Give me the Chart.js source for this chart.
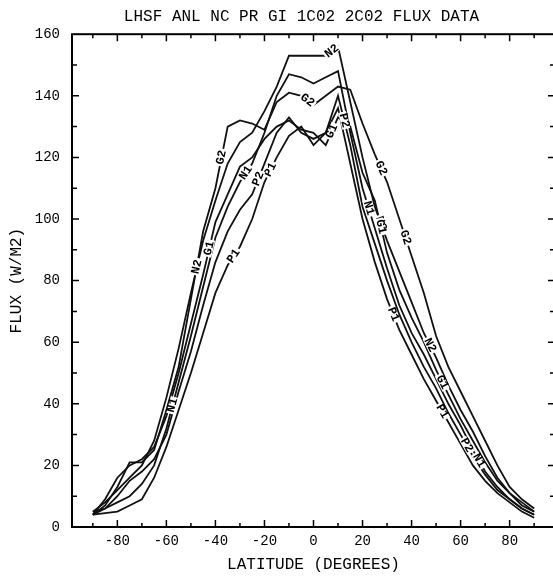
<!DOCTYPE html>
<html>
<head>
<meta charset="utf-8">
<script src="https://cdn.jsdelivr.net/npm/chart.js@4.4.0/dist/chart.umd.min.js"></script>
<style>
  html, body { margin: 0; padding: 0; background: #fff; }
  #wrap { width: 553px; height: 577px; overflow: hidden; }
</style>
</head>
<body>
<div id="wrap"><canvas id="fluxChart" width="560" height="577"></canvas></div>
<script>
const latitudes = [-90, -85, -80, -75, -70, -65, -60, -55, -50, -45, -40, -35, -30, -25, -20, -15, -10, -5,
  0, 5, 10, 15, 20, 25, 30, 35, 40, 45, 50, 55, 60, 65, 70, 75, 80, 85, 90];

const fluxN1 = [5, 6, 8, 10, 14, 20, 32, 47, 62, 78, 94, 104, 112, 118, 128, 140, 147, 146, 144, 146,
  148, 128, 110, 97, 84, 72, 63, 56, 48, 40, 33, 25, 18, 13, 9, 6, 4];
const fluxN2 = [5, 8, 12, 16, 20, 28, 42, 58, 76, 93, 106, 118, 125, 128, 135, 143, 153, 153, 153, 153,
  156, 138, 120, 104, 93, 83, 73, 63, 55, 46, 38, 31, 23, 16, 11, 8, 5];
const fluxP1 = [4, 4.5, 5, 7, 9, 16, 26, 38, 50, 63, 76, 85, 91, 100, 112, 120, 127, 130, 124, 128,
  136, 118, 100, 86, 74, 64, 56, 48, 41, 34, 27, 20, 15, 11, 8, 5, 3];
const fluxP2 = [4, 6, 10, 15, 18, 22, 30, 44, 57, 72, 86, 96, 103, 108, 118, 128, 133, 128, 126, 128,
  140, 124, 104, 92, 80, 69, 60, 52, 45, 37, 30, 23, 17, 12, 9, 6, 4];
const fluxG1 = [4, 9, 16, 20, 22, 26, 36, 50, 66, 82, 99, 108, 117, 120, 126, 130, 132, 129, 128, 124,
  133, 130, 115, 106, 89, 77, 68, 60, 51, 43, 35, 28, 21, 15, 11, 7, 5];
const fluxG2 = [4, 7, 13, 21, 21, 25, 38, 52, 74, 96, 110, 130, 132, 131, 129, 138, 141, 140, 137, 140,
  143, 142, 131, 121, 112, 100, 88, 76, 62, 52, 44, 36, 28, 20, 13, 9, 6];

const seriesNames = ["N1", "N2", "P1", "P2", "G1", "G2"];
const seriesValues = [fluxN1, fluxN2, fluxP1, fluxP2, fluxG1, fluxG2];

const xTickValues = [-80, -60, -40, -20, 0, 20, 40, 60, 80];
const yTickValues = [0, 20, 40, 60, 80, 100, 120, 140, 160];

// segment index (from point i to i+1) where each curve carries its name
const labelSpots = {
  N1: [6, 12, 22, 31],
  N2: [8, 19, 23, 27],
  P1: [11, 14, 24, 28],
  P2: [13, 20, 30],
  G1: [9, 19, 23, 28],
  G2: [10, 17, 23, 25],
};

Chart.defaults.font.family = "'Liberation Mono', 'DejaVu Sans Mono', monospace";
Chart.defaults.color = "#000";

const frameTicks = {
  id: "frameTicks",
  afterLayout(chart) {
    // nudge the title a little left, as on the plotter sheet
    if (chart.titleBlock) chart.titleBlock.left -= 24;
  },
  afterDraw(chart) {
    const { ctx, chartArea: a, scales: { x, y } } = chart;
    ctx.save();
    ctx.strokeStyle = "#000";
    ctx.lineWidth = 2;
    ctx.strokeRect(a.left, a.top, a.right - a.left, a.bottom - a.top);
    ctx.lineWidth = 1.5;
    ctx.beginPath();
    for (let v = -90; v <= 90; v += 10) {
      const px = x.getPixelForValue(v);
      const len = v % 20 === 0 ? 7 : 4;
      ctx.moveTo(px, a.bottom); ctx.lineTo(px, a.bottom - len);
      ctx.moveTo(px, a.top); ctx.lineTo(px, a.top + len);
    }
    for (let v = 10; v < 160; v += 10) {
      const py = y.getPixelForValue(v);
      const len = v % 20 === 0 ? 7 : 5;
      ctx.moveTo(a.left, py); ctx.lineTo(a.left + len, py);
      ctx.moveTo(a.right, py); ctx.lineTo(a.right - len, py);
    }
    ctx.stroke();
    ctx.restore();
  },
};

const curveLabels = {
  id: "curveLabels",
  afterDatasetsDraw(chart) {
    const ctx = chart.ctx;
    ctx.save();
    ctx.font = "bold 12px 'Liberation Mono', monospace";
    ctx.textAlign = "center";
    ctx.textBaseline = "middle";
    chart.data.datasets.forEach((ds, di) => {
      const pts = chart.getDatasetMeta(di).data;
      (labelSpots[ds.label] || []).forEach((i) => {
        const p0 = pts[i], p1 = pts[i + 1];
        const mx = (p0.x + p1.x) / 2, my = (p0.y + p1.y) / 2;
        let ang = Math.atan2(p1.y - p0.y, p1.x - p0.x);
        if (ang > Math.PI / 2) ang -= Math.PI;
        if (ang < -Math.PI / 2) ang += Math.PI;
        ctx.save();
        ctx.translate(mx, my);
        ctx.rotate(ang);
        const w = ctx.measureText(ds.label).width + 3;
        ctx.fillStyle = "#fff";
        ctx.fillRect(-w / 2, -4, w, 8);
        ctx.fillStyle = "#000";
        ctx.fillText(ds.label, 0, 0);
        ctx.restore();
      });
    });
    ctx.restore();
  },
};

new Chart(document.getElementById("fluxChart"), {
  type: "line",
  data: {
    datasets: seriesNames.map((name, k) => ({
      label: name,
      data: latitudes.map((lat, i) => ({ x: lat, y: seriesValues[k][i] })),
      borderColor: "#111",
      borderWidth: 1.8,
      pointRadius: 0,
      tension: 0,
      fill: false,
    })),
  },
  options: {
    responsive: false,
    devicePixelRatio: 1,
    animation: false,
    layout: { padding: { left: 0, right: 5, top: 0, bottom: 0 } },
    plugins: {
      legend: { display: false },
      tooltip: { enabled: false },
      title: {
        display: true,
        fullSize: false,
        text: "LHSF ANL NC PR GI 1C02 2C02 FLUX DATA",
        font: { size: 16, weight: "normal" },
        color: "#000",
        padding: { top: 7, bottom: 8 },
      },
    },
    scales: {
      x: {
        type: "linear",
        min: -98.5,
        max: 98.5,
        afterBuildTicks: (scale) => { scale.ticks = xTickValues.map((v) => ({ value: v })); },
        afterFit: (scale) => { scale.height = 50; },
        grid: { display: false, drawTicks: false },
        border: { display: false },
        ticks: { font: { size: 14 }, padding: 6, maxRotation: 0, autoSkip: false },
        title: {
          display: true,
          text: "LATITUDE (DEGREES)",
          font: { size: 16 },
          padding: { top: 0, bottom: 3 },
        },
      },
      y: {
        min: 0,
        max: 160,
        afterBuildTicks: (scale) => { scale.ticks = yTickValues.map((v) => ({ value: v })); },
        afterFit: (scale) => { scale.width = 72; },
        grid: { display: false, drawTicks: false },
        border: { display: false },
        ticks: { font: { size: 14 }, padding: 12 },
        title: {
          display: true,
          text: "FLUX (W/M2)",
          font: { size: 16 },
          padding: { top: 7, bottom: 0 },
        },
      },
    },
  },
  plugins: [frameTicks, curveLabels],
});
</script>
</body>
</html>
